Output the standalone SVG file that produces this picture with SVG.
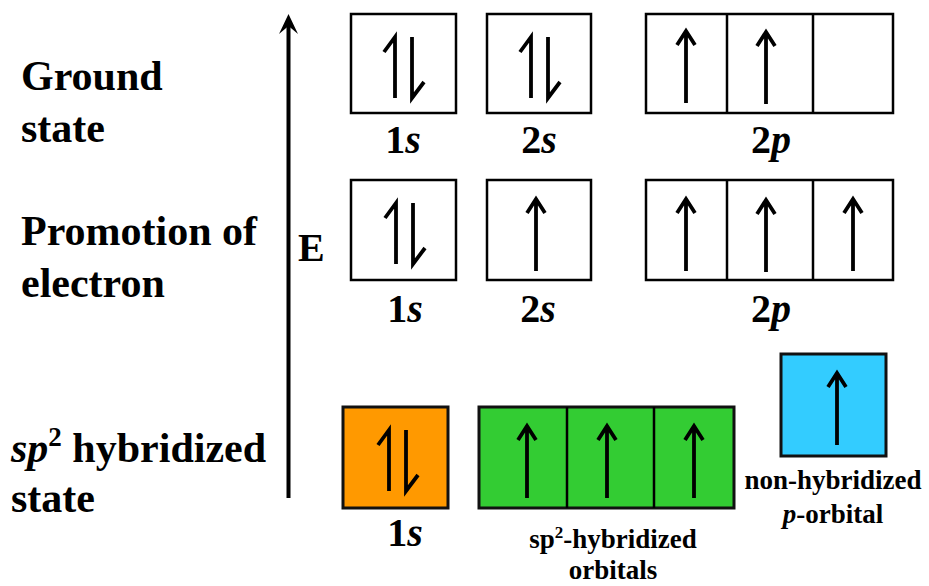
<svg xmlns="http://www.w3.org/2000/svg" width="929" height="586" viewBox="0 0 929 586" font-family="'Liberation Serif', 'DejaVu Serif', serif" font-weight="bold">
<style>
  .box{fill:#fff;stroke:#000;stroke-width:2.5}
  .or{fill:#FF9900;stroke:#111;stroke-width:3}
  .gr{fill:#33CC33;stroke:#111;stroke-width:3}
  .bl{fill:#33CCFF;stroke:#111;stroke-width:3}
  .div{stroke:#000;stroke-width:2.5}
  .e{fill:none;stroke:#000;stroke-width:3.8;stroke-linecap:butt;stroke-linejoin:miter}
  .big{font-size:42px}
  .lab{font-size:40px;text-anchor:middle}
  .sm{font-size:27px;text-anchor:middle}
  .it{font-style:italic}
</style>
<defs>
  <path id="up" d="M0,2 V73 M-9,15 L0,1 L9,15"/>
  <path id="pair" d="M-8,61 V0 L-19,15 M9,0 V61 L21,45"/>
</defs>
<g id="axis">
  <line x1="288.5" y1="498" x2="288.5" y2="22" stroke="#000" stroke-width="4"/>
  <path d="M279,34 L288.5,14 L298,34 L288.5,26 Z" fill="#000"/>
  <text x="298" y="261" font-size="40">E</text>
</g>
<g id="labels-left">
  <text class="big" x="21" y="90">Ground</text>
  <text class="big" x="21" y="142">state</text>
  <text class="big" x="21" y="245">Promotion of</text>
  <text class="big" x="21" y="297">electron</text>
  <text class="big" x="11" y="462"><tspan class="it">sp</tspan><tspan font-size="27" dy="-16">2</tspan><tspan dy="16"> hybridized</tspan></text>
  <text class="big" x="11" y="512">state</text>
</g>
<g id="ground-1s">
  <rect class="box" x="351" y="14" width="105" height="99"/>
  <use href="#pair" class="e" x="403" y="37"/>
  <text class="lab" x="403" y="153">1<tspan class="it">s</tspan></text>
</g>
<g id="ground-2s">
  <rect class="box" x="487" y="14" width="104" height="99"/>
  <use href="#pair" class="e" x="539" y="37"/>
  <text class="lab" x="539" y="153">2<tspan class="it">s</tspan></text>
</g>
<g id="ground-2p">
  <rect class="box" x="646" y="14" width="247" height="99"/>
  <line class="div" x1="727" y1="14" x2="727" y2="113"/>
  <line class="div" x1="813" y1="14" x2="813" y2="113"/>
  <use href="#up" class="e" x="686" y="30"/>
  <use href="#up" class="e" x="766" y="31"/>
  <text class="lab" x="771" y="153">2<tspan class="it">p</tspan></text>
</g>
<g id="promo-1s">
  <rect class="box" x="351" y="180" width="105" height="100"/>
  <use href="#pair" class="e" x="404" y="203"/>
  <text class="lab" x="405" y="322">1<tspan class="it">s</tspan></text>
</g>
<g id="promo-2s">
  <rect class="box" x="487" y="180" width="104" height="100"/>
  <use href="#up" class="e" x="536" y="198"/>
  <text class="lab" x="538" y="322">2<tspan class="it">s</tspan></text>
</g>
<g id="promo-2p">
  <rect class="box" x="646" y="180" width="247" height="100"/>
  <line class="div" x1="727" y1="180" x2="727" y2="280"/>
  <line class="div" x1="813" y1="180" x2="813" y2="280"/>
  <use href="#up" class="e" x="686" y="198"/>
  <use href="#up" class="e" x="766" y="199"/>
  <use href="#up" class="e" x="853" y="198"/>
  <text class="lab" x="771" y="322">2<tspan class="it">p</tspan></text>
</g>
<g id="hyb-1s">
  <rect class="or" x="343" y="407" width="105" height="101"/>
  <use href="#pair" class="e" x="397" y="430"/>
  <text class="lab" x="405" y="546">1<tspan class="it">s</tspan></text>
</g>
<g id="hyb-sp2">
  <rect class="gr" x="479" y="407" width="255" height="101"/>
  <line class="div" x1="567" y1="407" x2="567" y2="508" stroke-width="3"/>
  <line class="div" x1="654" y1="407" x2="654" y2="508" stroke-width="3"/>
  <use href="#up" class="e" x="527" y="425"/>
  <use href="#up" class="e" x="607" y="425"/>
  <use href="#up" class="e" x="694" y="425"/>
  <text class="sm" x="613" y="548">sp<tspan font-size="17" dy="-10">2</tspan><tspan dy="10">-hybridized</tspan></text>
  <text class="sm" x="613" y="579">orbitals</text>
</g>
<g id="hyb-p">
  <rect class="bl" x="781" y="354" width="105" height="102"/>
  <use href="#up" class="e" x="837" y="372"/>
  <text class="sm" x="833" y="489">non-hybridized</text>
  <text class="sm" x="833" y="523"><tspan class="it">p</tspan>-orbital</text>
</g>
</svg>
